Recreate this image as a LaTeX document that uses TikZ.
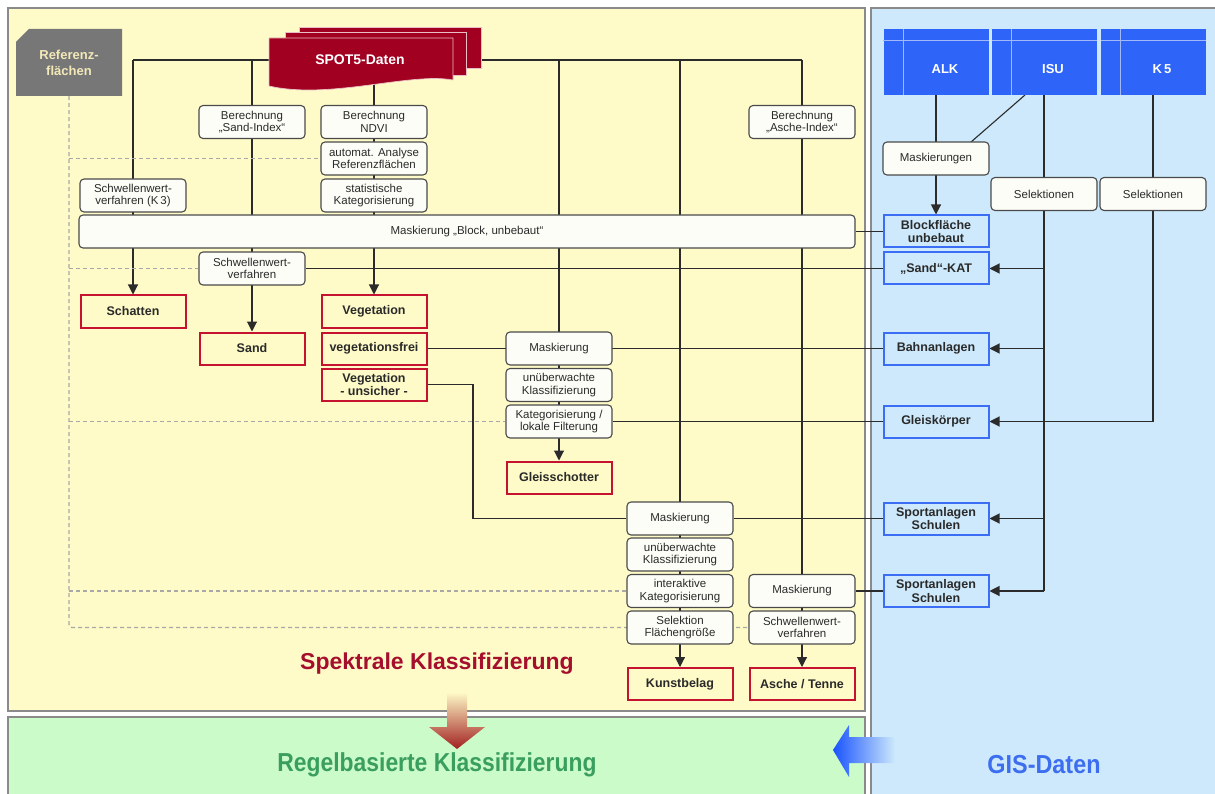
\documentclass[tikz,border=0pt]{standalone}
\usepackage{fontspec}
\setmainfont{Liberation Sans}
\usetikzlibrary{arrows.meta,calc}
\pgfdeclarelayer{panel}
\pgfdeclarelayer{bgl}
\pgfsetlayers{panel,bgl,main}
\definecolor{ybg}{HTML}{FEFBC8}
\definecolor{bbg}{HTML}{CDE9FB}
\definecolor{gbg}{HTML}{CCFBCA}
\definecolor{boxfill}{HTML}{FDFDF8}
\definecolor{boxgray}{HTML}{4A4A4A}
\definecolor{txt}{HTML}{2A2A2A}
\definecolor{redbord}{HTML}{C41230}
\definecolor{bluebord}{HTML}{3C6EF5}
\definecolor{hdrblue}{HTML}{2E64F7}
\definecolor{spotred}{HTML}{A20020}
\definecolor{titlered}{HTML}{A50E2D}
\definecolor{titlegreen}{HTML}{3A9E5F}
\definecolor{gisblue}{HTML}{3D6EF0}
\definecolor{linecol}{HTML}{2B2B2B}
\definecolor{dashgray}{HTML}{A8A8A8}
\definecolor{refgray}{HTML}{777777}
\definecolor{reftext}{HTML}{F2E8B8}
\definecolor{panelgray}{HTML}{8A8A8A}
\definecolor{arrred}{HTML}{A22020}
\begin{document}
\begin{tikzpicture}[x=1pt,y=-1pt,
  rbox/.style={rectangle, rounded corners=4pt, draw=boxgray, fill=boxfill, line width=1.1pt,
    minimum width=106pt, minimum height=33pt, inner sep=1pt, align=center, text=txt,
    font=\fontsize{11.5}{12.5}\selectfont},
  redbox/.style={rectangle, draw=redbord, fill=ybg, line width=2pt, minimum width=105pt,
    minimum height=32pt, inner sep=1pt, align=center, text=txt,
    font=\bfseries\fontsize{12.5}{13.5}\selectfont},
  bluebox/.style={redbox, draw=bluebord, fill=bbg},
  hdr/.style={rectangle, fill=hdrblue, minimum width=105pt, minimum height=66pt, inner sep=0pt},
  hdrtxt/.style={text=white, font=\bfseries\fontsize{13}{14}\selectfont, inner sep=0pt},
  hdrline/.style={draw=white!55!hdrblue, line width=0.7pt},
  conn/.style={draw=linecol, line width=1.1pt},
  arr/.style={conn, -{Triangle[length=10pt,width=10pt]}},
  dsh/.style={draw=dashgray, line width=1.3pt, dash pattern=on 4pt off 3pt}]
\useasboundingbox (0,0) rectangle (1215,794);

\begin{pgfonlayer}{panel}
  \fill[white] (0,0) rectangle (1215,794);
  \filldraw[fill=ybg, draw=panelgray, line width=1.2pt] (8,8) rectangle (865,711);
  \fill[bbg] (871,8) rectangle (1215,794);
  \draw[panelgray, line width=1.2pt] (871,794) -- (871,8) -- (1215,8);
  \fill[gbg] (8,717) rectangle (865,794);
  \draw[panelgray, line width=1.2pt] (8,794) -- (8,717) -- (865,717) -- (865,794);
\end{pgfonlayer}

% Referenzflaechen
\fill[refgray] (16,42) -- (29,29) -- (122,29) -- (122,96) -- (16,96) -- cycle;
\node[minimum width=106pt, minimum height=67pt, inner sep=0pt, align=center, text=reftext,
  font=\bfseries\fontsize{13}{16}\selectfont] (ref) at (69,62.5) {Referenz-\\flächen};

% SPOT5
\filldraw[fill=spotred, draw=white!75!spotred, line width=0.7pt] (299,27) rectangle (481,68);
\filldraw[fill=spotred, draw=white!75!spotred, line width=0.7pt] (285,32) rectangle (466,75);
\filldraw[fill=spotred, draw=white!75!spotred, line width=0.7pt] (269,38) -- (453,38) -- (453,80)
  .. controls (410,72) and (330,100) .. (269,86) -- cycle;
\node[text=white, font=\bfseries\fontsize{14}{16}\selectfont] (spot) at (360,60) {SPOT5-Daten};

% left column nodes
\node[rbox] (sandidx) at (252,122) {Berechnung\\„Sand-Index“};
\node[rbox] (ndvi) at (374,122) {Berechnung\\NDVI};
\node[rbox] (autom) at (374,158.5) {automat. Analyse\\Referenzflächen};
\node[rbox] (stat) at (374,195.5) {statistische\\Kategorisierung};
\node[rbox] (k3) at (133,195.5) {Schwellenwert-\\verfahren (K\,3)};
\node[rbox] (ascheidx) at (802,122) {Berechnung\\„Asche-Index“};
\node[rbox, minimum width=776pt] (block) at (467,231.5) {Maskierung „Block, unbebaut“};
\node[rbox] (schw2) at (252,268.5) {Schwellenwert-\\verfahren};
\node[redbox] (schatten) at (133,311.5) {Schatten};
\node[redbox] (sand) at (252,348.5) {Sand};
\node[redbox] (veg) at (374,311.5) {Vegetation};
\node[redbox] (vegfrei) at (374,348.5) {vegetationsfrei};
\node[redbox] (vegun) at (374,384.5) {Vegetation\\- unsicher -};
\node[rbox] (mask1) at (559,348.5) {Maskierung};
\node[rbox] (unue1) at (559,385) {unüberwachte\\Klassifizierung};
\node[rbox] (katlok) at (559,421.5) {Kategorisierung /\\lokale Filterung};
\node[redbox] (gleis) at (559,477.5) {Gleisschotter};
\node[rbox] (mask2) at (680,518.5) {Maskierung};
\node[rbox] (unue2) at (680,554.5) {unüberwachte\\Klassifizierung};
\node[rbox] (interakt) at (680,591) {interaktive\\Kategorisierung};
\node[rbox] (selek) at (680,627.5) {Selektion\\Flächengröße};
\node[redbox] (kunst) at (680,684) {Kunstbelag};
\node[rbox] (mask3) at (802,591) {Maskierung};
\node[rbox] (schw3) at (802,627.5) {Schwellenwert-\\verfahren};
\node[redbox] (asche) at (802,684) {Asche / Tenne};

% GIS
\node[hdr] (alk) at (936,62) {};
\node[hdr] (isu) at (1044.5,62) {};
\node[hdr] (k5) at (1153.5,62) {};
\foreach \h in {alk,isu,k5}{
  \draw[hdrline] ($(\h.north west)+(20,0)$) -- ($(\h.south west)+(20,0)$);
  \draw[hdrline] ($(\h.north west)+(0,12)$) -- ($(\h.north east)+(0,12)$);
}
\node[hdrtxt] (alkt) at (945,69) {ALK};
\node[hdrtxt] (isut) at (1053,69) {ISU};
\node[hdrtxt] (k5t) at (1162,69) {K\,5};
\node[rbox] (maskgs) at (936,158.5) {Maskierungen};
\node[rbox] (sel1) at (1044,194) {Selektionen};
\node[rbox] (sel2) at (1153,194) {Selektionen};
\node[bluebox] (blockfl) at (936,231.5) {Blockfläche\\unbebaut};
\node[bluebox] (sandkat) at (936,268.5) {„Sand“-KAT};
\node[bluebox] (bahn) at (936,348.5) {Bahnanlagen};
\node[bluebox] (gleisk) at (936,421.5) {Gleiskörper};
\node[bluebox] (sport1) at (936,518.5) {Sportanlagen\\Schulen};
\node[bluebox] (sport2) at (936,591) {Sportanlagen\\Schulen};

% titles
\node[font=\bfseries\fontsize{23}{26}\selectfont, text=titlered] (spek) at (437,664) {Spektrale Klassifizierung};
\node[font=\bfseries\fontsize{26}{30}\selectfont, text=titlegreen] (regel) at (437,765) {\scalebox{0.88}[1]{Regelbasierte Klassifizierung}};
\node[font=\bfseries\fontsize{26}{30}\selectfont, text=gisblue] (gis) at (1044,765) {\scalebox{0.9}[1]{GIS-Daten}};

% big arrows
\shade[top color=ybg, middle color=orange!30!ybg!80!red, bottom color=arrred]
  (447,692) -- (467,692) -- (467,727) -- (485,727) -- (457,749) -- (429,727) -- (447,727) -- cycle;
\shade[left color=blue!75!cyan!90!white, right color=bbg]
  (833,750) -- (849,725) -- (849,737) -- (895,737) -- (895,763) -- (849,763) -- (849,777) -- cycle;

\begin{pgfonlayer}{bgl}
  \coordinate (b1) at (133,60);
  \coordinate (b2) at (252,60);
  \coordinate (b4) at (559,60);
  \coordinate (b5) at (680,60);
  \coordinate (b6) at (802,60);
  \coordinate (sp) at (374,80);
  \draw[conn] (b1) -- (b6);
  \draw[arr] (b1) -- (schatten.north);
  \draw[arr] (b2) -- (sand.north);
  \draw[arr] (sp) -- (veg.north);
  \draw[arr] (b4) -- (gleis.north);
  \draw[arr] (b5) -- (kunst.north);
  \draw[arr] (b6) -- (asche.north);
  \draw[conn] (block.east) -- (blockfl.west);
  \draw[conn] (schw2.east) -- (sandkat.west);
  \draw[conn] (vegfrei.east) -- (bahn.west);
  \draw[conn] (katlok.east) -- (gleisk.west);
  \draw[conn] (mask2.east) -- (sport1.west);
  \draw[conn] (mask3.east) -- (sport2.west);
  \coordinate (vc) at (473,384.5);
  \draw[conn] (vegun.east) -- (vc) |- (mask2.west);
  % GIS
  \draw[arr] (alk.south) -- (blockfl.north);
  \coordinate (isud) at (1025,95);
  \coordinate (maskne) at (971,142);
  \draw[conn] (isud) -- (maskne);
  \coordinate (isutop) at (1044,95);
  \coordinate (isuend) at (1044,591);
  \draw[conn] (isutop) -- (isuend);
  \draw[arr] (isuend |- sandkat.east) -- (sandkat.east);
  \draw[arr] (isuend |- bahn.east) -- (bahn.east);
  \draw[arr] (isuend |- sport1.east) -- (sport1.east);
  \draw[arr] (isuend) -- (sport2.east);
  \coordinate (k5top) at (1153,95);
  \coordinate (k5end) at (1153,421.5);
  \draw[conn] (k5top) -- (k5end);
  \draw[arr] (k5end) -- (gleisk.east);
  % dashed reference lines
  \draw[dsh, rounded corners=3pt] (ref.south) |- (schw3.west);
  \draw[dsh] (ref.south |- autom.west) -- (autom.west);
  \draw[dsh] (ref.south |- schw2.west) -- (schw2.west);
  \draw[dsh] (ref.south |- katlok.west) -- (katlok.west);
  \draw[dsh] (ref.south |- interakt.west) -- (interakt.west);
\end{pgfonlayer}
\end{tikzpicture}
\end{document}
